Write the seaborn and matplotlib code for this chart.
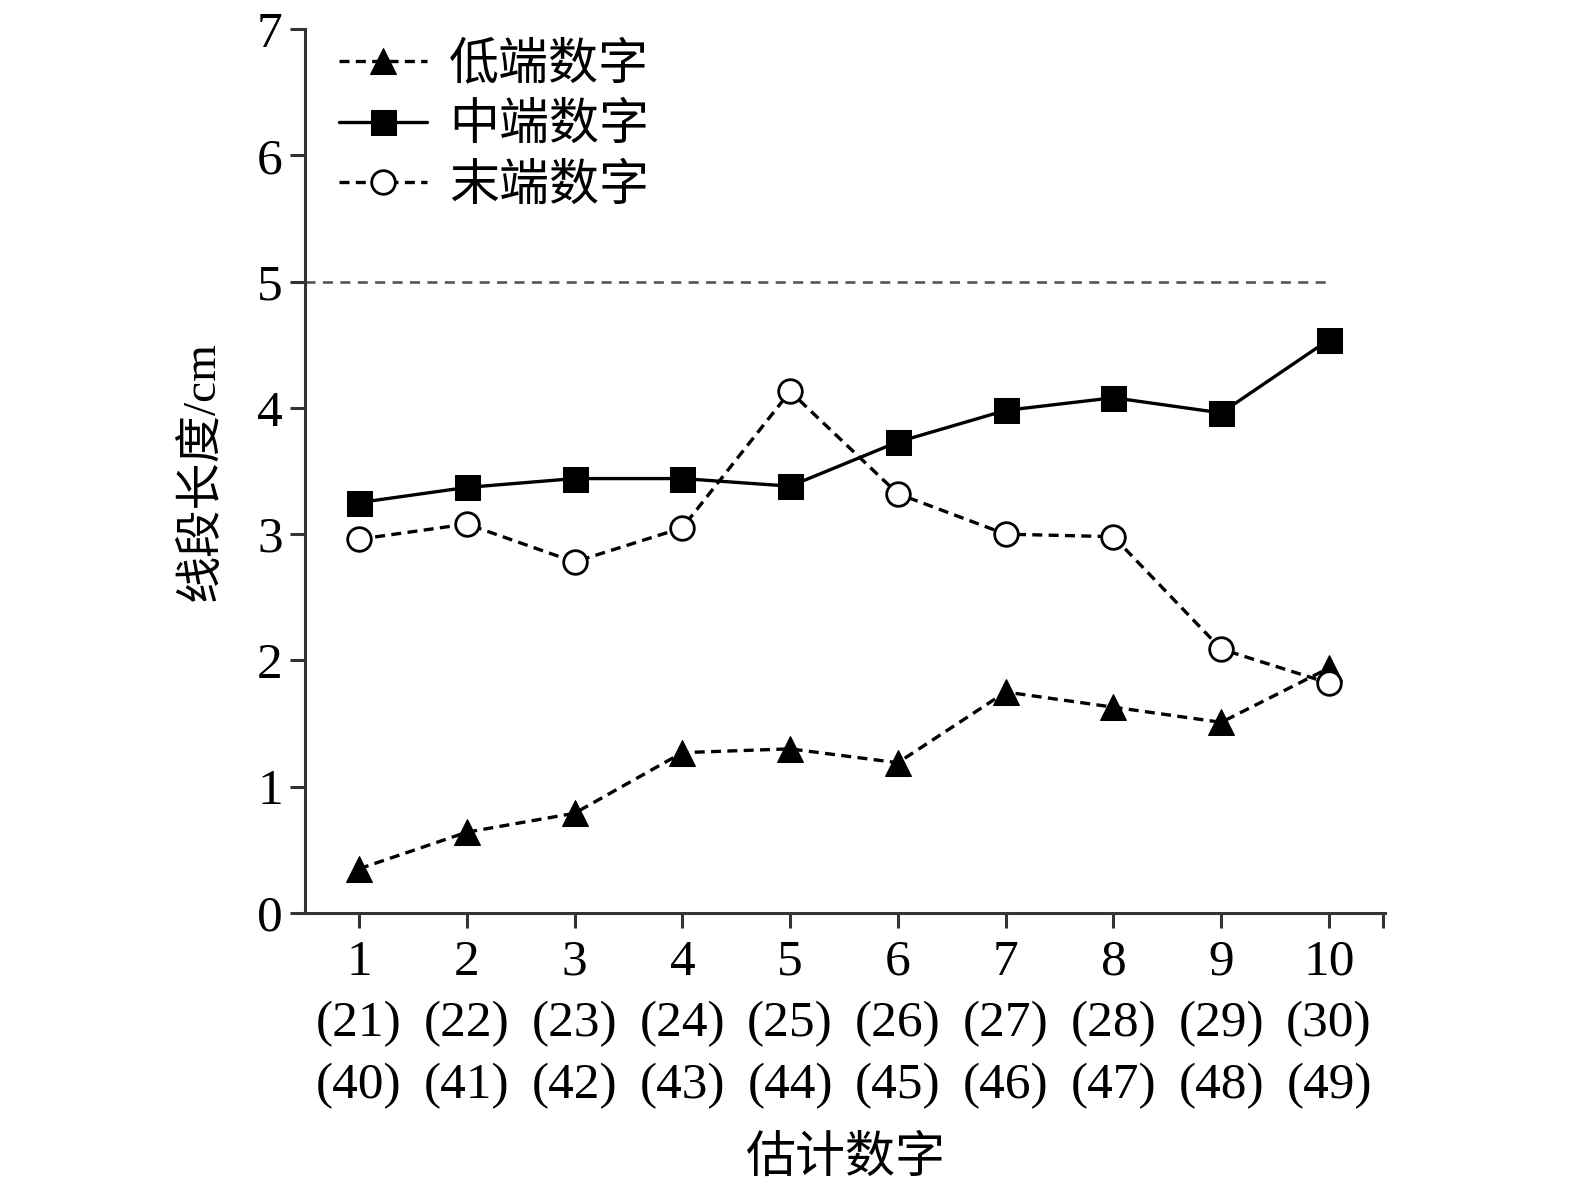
import matplotlib
matplotlib.use("Agg")
import matplotlib.pyplot as plt
import seaborn as sns
import pandas as pd
from matplotlib.ticker import FixedLocator

x_vals = [1, 2, 3, 4, 5, 6, 7, 8, 9, 10]
x_labels = ["1\n(21)\n(40)", "2\n(22)\n(41)", "3\n(23)\n(42)", "4\n(24)\n(43)", "5\n(25)\n(44)",
            "6\n(26)\n(45)", "7\n(27)\n(46)", "8\n(28)\n(47)", "9\n(29)\n(48)", "10\n(30)\n(49)"]
low_vals = [0.35, 0.64, 0.79, 1.27, 1.30, 1.19, 1.75, 1.63, 1.51, 1.94]
mid_vals = [3.25, 3.37, 3.44, 3.44, 3.38, 3.73, 3.98, 4.08, 3.96, 4.54]
end_vals = [2.96, 3.08, 2.78, 3.05, 4.13, 3.32, 3.00, 2.98, 2.09, 1.82]
series_names = ["低端数字", "中端数字", "末端数字"]
ref_value = 5

sns.set_theme(style="ticks")
plt.rcParams['font.family'] = ['Liberation Serif', 'Noto Sans CJK SC']
plt.rcParams['axes.unicode_minus'] = False
for k in ["text.color", "axes.labelcolor", "xtick.labelcolor", "ytick.labelcolor"]:
    plt.rcParams[k] = "black"

fig = plt.figure(figsize=(15.75, 11.87), dpi=100)
ax = fig.add_axes([0.1937, 0.2308, 0.8794 - 0.1937, 0.9756 - 0.2308])

df = pd.DataFrame({"x": x_vals, "low": low_vals, "mid": mid_vals, "end": end_vals})

ax.plot([0.5, 10], [ref_value, ref_value], color="#555555", lw=1.9, ls=(0, (3.8, 2.8)), zorder=1)

dash = (0, (3.0, 1.9))
sns.lineplot(data=df, x="x", y="low", ax=ax, color="black", marker="^", markersize=19,
             markeredgecolor="black", markerfacecolor="black", linestyle=dash,
             linewidth=2.4, label=series_names[0], zorder=3)
sns.lineplot(data=df, x="x", y="mid", ax=ax, color="black", marker="s", markersize=18,
             markeredgecolor="black", markerfacecolor="black", linestyle="-",
             linewidth=2.4, label=series_names[1], zorder=3)
sns.lineplot(data=df, x="x", y="end", ax=ax, color="black", marker="o", markersize=17,
             markeredgecolor="black", markerfacecolor="white", markeredgewidth=2.0,
             linestyle=dash, linewidth=2.4, label=series_names[2], zorder=3)

ax.set_xlim(0.5, 10.52)
ax.set_ylim(0, 7)
ax.set_xticks(x_vals)
ax.set_xticklabels(x_labels, fontsize=37, linespacing=1.42)
ax.xaxis.set_minor_locator(FixedLocator([10.5]))
ax.set_yticks(range(0, 8))
ax.set_yticklabels([str(i) for i in range(0, 8)], fontsize=37)
ax.tick_params(axis="both", which="both", direction="out", length=11, width=2.2, color="#333333")
ax.tick_params(axis="x", which="major", pad=8)
ax.tick_params(axis="y", pad=5)

for s in ["top", "right"]:
    ax.spines[s].set_visible(False)
for s in ["left", "bottom"]:
    ax.spines[s].set_linewidth(2.2)
    ax.spines[s].set_color("#333333")

ax.set_xlabel("估计数字", fontsize=36, labelpad=20)
ax.set_ylabel("线段长度/cm", fontsize=34, labelpad=24)

leg = ax.legend(loc="upper left", bbox_to_anchor=(-0.01, 1.035), frameon=False, fontsize=36,
                handlelength=1.75, handletextpad=0.45, labelspacing=0.28)

fig.savefig("out.png", dpi=100)
